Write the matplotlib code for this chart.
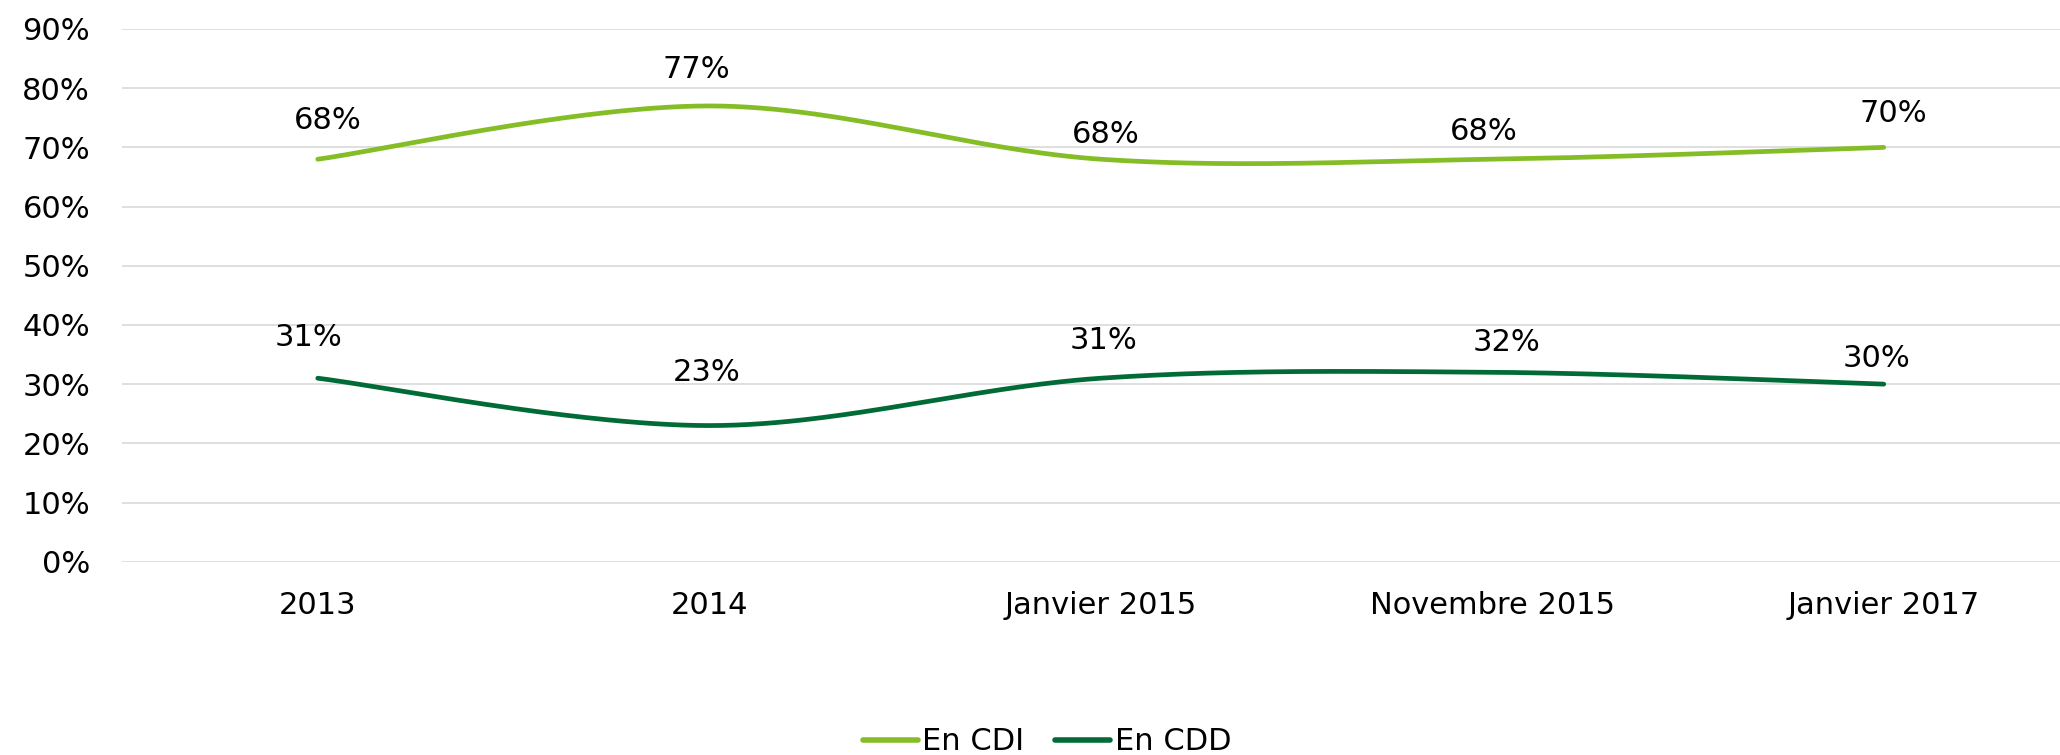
import numpy as np
import matplotlib
matplotlib.use("Agg")
import matplotlib.pyplot as plt
from matplotlib.ticker import FuncFormatter

# ---- data ----
categories = ["2013", "2014", "Janvier 2015", "Novembre 2015", "Janvier 2017"]
cdi = [68, 77, 68, 68, 70]
cdd = [31, 23, 31, 32, 30]
series_names = ["En CDI", "En CDD"]
yticks = [0, 10, 20, 30, 40, 50, 60, 70, 80, 90]

# data-label placement (pixel offsets of label centre from the point: dx, dy-up)
cdi_label_dx = [10, -13, 5, -8, 10]
cdi_label_dy = [39, 36, 25, 28, 34]
cdd_label_dx = [-9, -3, 3, 14, -7]
cdd_label_dy = [41, 53, 38, 30, 26]

colors = ["#84BD26", "#006B37"]

plt.rcParams['font.family'] = ['DejaVu Sans']

W, H, DPI = 2060, 755, 100
PT = 72.0 / DPI
fig = plt.figure(figsize=(W / DPI, H / DPI), dpi=DPI)
left_px, right_px, top_px, bot_px = 122, 2079.5, 29, 561.7
ax = fig.add_axes([left_px / W, 1 - bot_px / H, (right_px - left_px) / W, (bot_px - top_px) / H])


def smooth(xs, ys, n=60):
    """Excel-style smoothed line (Catmull-Rom Bezier) through the given points."""
    xs = np.asarray(xs, float)
    ys = np.asarray(ys, float)
    P = np.column_stack([xs, ys])
    Pext = np.vstack([P[0], P, P[-1]])
    out = []
    t = np.linspace(0, 1, n)[:, None]
    for i in range(len(P) - 1):
        p0 = Pext[i + 1]
        p3 = Pext[i + 2]
        c1 = p0 + (Pext[i + 2] - Pext[i]) / 6.0
        c2 = p3 - (Pext[i + 3] - Pext[i + 1]) / 6.0
        seg = (1 - t) ** 3 * p0 + 3 * (1 - t) ** 2 * t * c1 + 3 * (1 - t) * t ** 2 * c2 + t ** 3 * p3
        out.append(seg if i == 0 else seg[1:])
    seg = np.vstack(out)
    return seg[:, 0], seg[:, 1]


x = np.arange(len(categories))
for vals, name, col, ldx, ldy in zip([cdi, cdd], series_names, colors,
                                     [cdi_label_dx, cdd_label_dx], [cdi_label_dy, cdd_label_dy]):
    sx, sy = smooth(x, vals)
    ax.plot(sx, sy, color=col, lw=3.4, solid_capstyle='round', label=name, zorder=3)
    for xi, v, dx, dy in zip(x, vals, ldx, ldy):
        ax.annotate(f"{v}%", (xi, v), xytext=(dx * PT, dy * PT), textcoords='offset points',
                    ha='center', va='center', fontsize=22, color='#000000', zorder=4)

ax.set_xlim(-0.5, len(categories) - 0.5)
ax.set_ylim(0, 90)
ax.set_yticks(yticks)
ax.yaxis.set_major_formatter(FuncFormatter(lambda v, p: f"{int(v)}%"))
ax.set_xticks(x)
ax.set_xticklabels(categories)
ax.tick_params(axis='both', length=0, labelsize=22, colors='#000000')
ax.tick_params(axis='y', pad=23)
ax.tick_params(axis='x', pad=21)
ax.yaxis.grid(True, color='#D9D9D9', lw=1.2, zorder=0)
ax.set_axisbelow(True)
for s in ax.spines.values():
    s.set_visible(False)

leg = fig.legend(loc='center', bbox_to_anchor=(1047 / W, (H - 742) / H), ncol=2, frameon=False,
                 fontsize=22, handlelength=1.8, handletextpad=0.15, columnspacing=1.0,
                 borderpad=0, borderaxespad=0)
for h in leg.get_lines():
    h.set_linewidth(4)
    h.set_solid_capstyle('round')

fig.savefig("out.png", dpi=DPI)
